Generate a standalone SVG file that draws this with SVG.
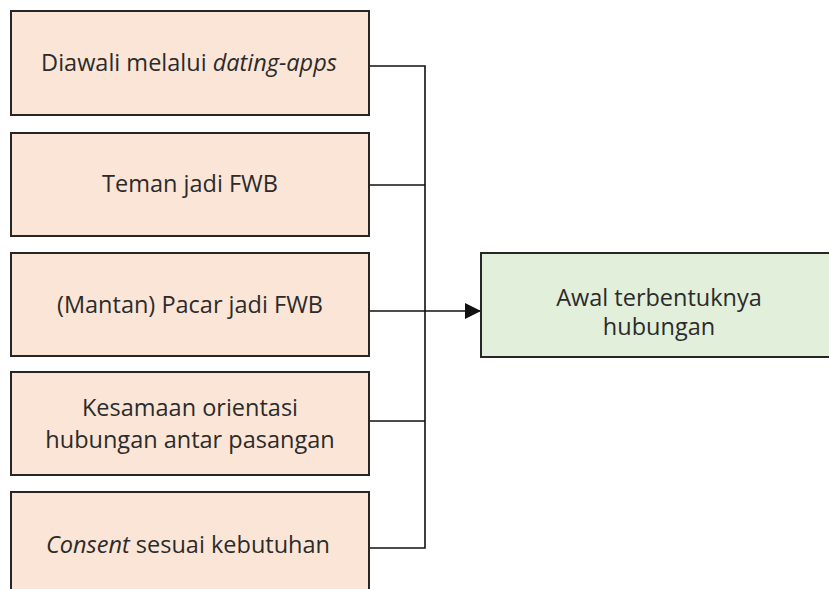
<svg xmlns="http://www.w3.org/2000/svg" width="829" height="589" viewBox="0 0 829 589">
  <defs>
    <style>
      .src { fill: #fbe5d6; stroke: #262626; stroke-width: 2; }
      .dst { fill: #e2efda; stroke: #262626; stroke-width: 2; }
      .lbl { font-family: "Open Sans", "Liberation Sans", sans-serif; font-size: 23.5px; fill: #2b2b2b; text-anchor: middle; }
      .wire { fill: none; stroke: #111; stroke-width: 1.6; }
    </style>
    <marker id="arrow" viewBox="0 0 10 10" refX="10" refY="5" markerWidth="16" markerHeight="16" markerUnits="userSpaceOnUse" orient="auto">
      <path d="M0,0 L10,5 L0,10 z" fill="#111"/>
    </marker>
  </defs>
  <rect width="829" height="589" fill="#ffffff"/>

  <g id="connectors">
    <path class="wire" d="M369,66 H425 V548 H369"/>
    <path class="wire" d="M369,185 H425"/>
    <path class="wire" d="M369,421 H425"/>
    <path class="wire" d="M369,311 H481" marker-end="url(#arrow)"/>
  </g>

  <g id="node-dating-apps">
    <rect class="src" x="11" y="11" width="358" height="104"/>
    <text class="lbl" x="189" y="71">Diawali melalui <tspan font-style="italic">dating-apps</tspan></text>
  </g>
  <g id="node-teman">
    <rect class="src" x="11" y="133" width="358" height="103"/>
    <text class="lbl" x="190" y="192">Teman jadi FWB</text>
  </g>
  <g id="node-mantan">
    <rect class="src" x="11" y="253" width="358" height="103"/>
    <text class="lbl" x="190" y="313">(Mantan) Pacar jadi FWB</text>
  </g>
  <g id="node-orientasi">
    <rect class="src" x="11" y="372" width="358" height="103"/>
    <text class="lbl" x="190" y="416">Kesamaan orientasi</text>
    <text class="lbl" x="190" y="448">hubungan antar pasangan</text>
  </g>
  <g id="node-consent">
    <rect class="src" x="11" y="492" width="358" height="104"/>
    <text class="lbl" x="188" y="553"><tspan font-style="italic">Consent</tspan> sesuai kebutuhan</text>
  </g>
  <g id="node-awal">
    <rect class="dst" x="481" y="253" width="352" height="104"/>
    <text class="lbl" x="659" y="306">Awal terbentuknya</text>
    <text class="lbl" x="659" y="335">hubungan</text>
  </g>
</svg>
